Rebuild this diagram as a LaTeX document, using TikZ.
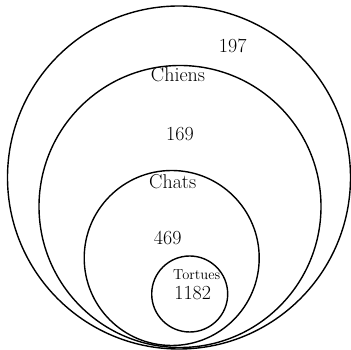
\documentclass[tikz,border=0pt]{standalone}
\usepackage{tikz}
\usetikzlibrary{positioning}
\tikzset{
    % Base style for the set circles
    set circle/.style={
        circle,
        draw=black,
        line width=1.4pt,
        inner sep=0pt,
        outer sep=0pt,
    },
    % Set names
    set name/.style={
        font=\fontsize{20}{23}\selectfont,
        inner sep=0pt,
    },
    % Counts inside each region
    set count/.style={
        font=\fontsize{20}{23}\selectfont,
        inner sep=0pt,
    },
}
\begin{document}
\begin{tikzpicture}[x=1pt, y=1pt]
    \useasboundingbox (0,0) rectangle (351,350);

    \node (all) [set circle, minimum size=343pt] at (179,172.5) {};
    \node (chiens) [set circle, minimum size=282pt] at (180,143.5) {};
    \node (chats) [set circle, minimum size=175pt] at (171.7,92) {};
    \node (tortues) [set circle, minimum size=76pt] at (189.7,56) {};

    \node (n_all) [set count] at (232.7,304) {197};
    \node (l_chiens) [set name] at (178,275) {Chiens};
    \node (n_chiens) [set count] at (180,216) {169};
    \node (l_chats) [set name] at (172.7,168.3) {Chats};
    \node (n_chats) [set count] at (167.7,112.3) {469};
    \node (l_tortues) [set name, font=\fontsize{14.5}{17}\selectfont] at (196.7,75.7) {Tortues};
    \node (n_tortues) [set count] at (192.7,56.7) {1182};
\end{tikzpicture}
\end{document}
